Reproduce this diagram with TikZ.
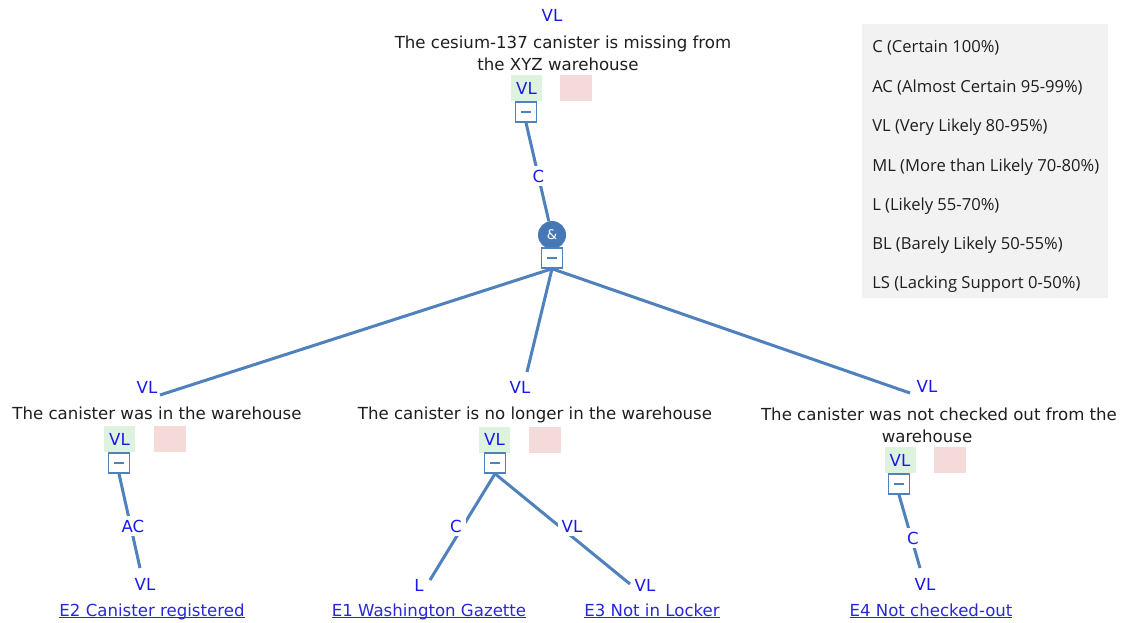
\documentclass[tikz,border=0pt]{standalone}
\usepackage{fontspec}
\newfontfamily\treefont{DejaVu Sans}
\newfontfamily\legfont{Open Sans}
\newlength\px \setlength\px{0.75pt}
\definecolor{lblue}{RGB}{25,25,235}
\definecolor{linkblue}{RGB}{40,40,215}
\definecolor{linec}{RGB}{79,129,189}
\definecolor{andfill}{RGB}{70,120,182}
\definecolor{gfill}{RGB}{222,243,222}
\definecolor{pfill}{RGB}{245,218,218}
\definecolor{legbg}{RGB}{242,242,242}
\definecolor{txt}{RGB}{30,30,30}
\newcommand\ulink[1]{\setbox0\hbox{#1}\rlap{\rule[-2.2\px]{\wd0}{0.8\px}}\box0}
\begin{document}
\begin{tikzpicture}[x=0.75pt,y=-0.75pt,
 tf/.style={font=\fontsize{12.45}{16.1}\selectfont\treefont},
 lbl/.style={tf, text=lblue, inner sep=1pt, anchor=base},
 elbl/.style={lbl, fill=white, inner sep=3pt},
 stmt/.style={tf, text=txt, align=center, inner sep=0pt, anchor=base},
 gbox/.style={fill=gfill, minimum width=23.25pt, minimum height=19.5pt, inner sep=0pt, text=lblue, tf},
 pbox/.style={fill=pfill, minimum width=24pt, minimum height=19.5pt, inner sep=0pt},
 mbox/.style={draw=linec, fill=white, line width=1.1pt, minimum width=15.5pt, minimum height=15pt, inner sep=0pt,
   path picture={\draw[linec, line width=1.1pt] ([xshift=-3.75pt]path picture bounding box.center) -- ([xshift=3.75pt]path picture bounding box.center);}},
 andc/.style={circle, fill=andfill, minimum size=21pt, inner sep=0pt, text=white, font=\fontsize{10}{12}\selectfont\treefont},
 conn/.style={draw=linec, line width=2.25pt},
 leaf/.style={tf, text=linkblue, anchor=base, inner sep=0pt},
 legtxt/.style={font=\fontsize{12.45}{14}\selectfont\legfont, text=txt, anchor=base west, inner sep=0pt},
]
\useasboundingbox[fill=white] (0,0) rectangle (1122,622);

% legend
\node[fill=legbg, minimum width=184.5pt, minimum height=205.5pt, anchor=north west, inner sep=0pt] (leg) at (862,24) {};
\node[legtxt] (l1) at (872,52) {C (Certain 100\%)};
\node[legtxt] (l2) at (872,92) {AC (Almost Certain 95-99\%)};
\node[legtxt] (l3) at (872,131) {VL (Very Likely 80-95\%)};
\node[legtxt] (l4) at (872,171) {ML (More than Likely 70-80\%)};
\node[legtxt] (l5) at (872,210) {L (Likely 55-70\%)};
\node[legtxt] (l6) at (872,249) {BL (Barely Likely 50-55\%)};
\node[legtxt] (l7) at (872,288) {LS (Lacking Support 0-50\%)};

% top claim
\node[lbl] (vTop) at (552,21) {VL};
\node[stmt] (sTop) at (563,70) {The cesium-137 canister is missing from\\the XYZ warehouse\hspace*{10\px}};
\node[gbox] (gTop) at (526.5,88) {VL};
\node[pbox] (pTop) at (576,88) {};
\node[mbox] (mTop) at (526,112) {};
\node[andc] (and) at (552,235) {\&};
\draw[conn] (mTop.south) -- (and);
\node[elbl] (cTop) at (538.5,182) {C};
\node[mbox] (mAnd) at (552,258) {};

% connectors to children
\coordinate (eL) at (160,395);
\coordinate (eM) at (527,372);
\coordinate (eR) at (910,393);
\draw[conn] (mAnd.south) -- (eL);
\draw[conn] (mAnd.south) -- (eM);
\draw[conn] (mAnd.south) -- (eR);

% left child
\node[lbl] (vL) at (147,393) {VL};
\node[stmt] (sL) at (157,419) {The canister was in the warehouse};
\node[gbox] (gL) at (119.5,439) {VL};
\node[pbox] (pL) at (169.5,439) {};
\node[mbox] (mL) at (119,463) {};
\coordinate (bL) at (140,568);
\draw[conn] (mL.south) -- (bL);
\node[elbl] (acL) at (133,532) {AC};
\node[lbl] (lvL) at (145,590) {VL};
\node[leaf] (E2) at (152,616) {\ulink{E2 Canister registered}};

% middle child
\node[lbl] (vM) at (520,393) {VL};
\node[stmt] (sM) at (535,419) {The canister is no longer in the warehouse};
\node[gbox] (gM) at (494.5,439.5) {VL};
\node[pbox] (pM) at (544.5,439.5) {};
\node[mbox] (mM) at (495,463) {};
\coordinate (bM1) at (430,580);
\coordinate (bM2) at (630,584);
\draw[conn] (mM.south) -- (bM1);
\draw[conn] (mM.south) -- (bM2);
\node[elbl] (cM) at (456,532) {C};
\node[elbl] (vlM) at (572,532) {VL};
\node[lbl] (lvM1) at (419,591) {L};
\node[lbl] (lvM2) at (645,591) {VL};
\node[leaf] (E1) at (429,616) {\ulink{E1 Washington Gazette}};
\node[leaf] (E3) at (652,616) {\ulink{E3 Not in Locker}};

% right child
\node[lbl] (vR) at (927,392) {VL};
\node[stmt] (sR) at (939,442) {The canister was not checked out from the\\warehouse\hspace*{24\px}};
\node[gbox] (gR) at (900,460) {VL};
\node[pbox] (pR) at (950,460) {};
\node[mbox] (mR) at (899,484) {};
\coordinate (bR) at (920,568);
\draw[conn] (mR.south) -- (bR);
\node[elbl] (cR) at (913,544) {C};
\node[lbl] (lvR) at (925,590) {VL};
\node[leaf] (E4) at (931,616) {\ulink{E4 Not checked-out}};
\end{tikzpicture}
\end{document}
